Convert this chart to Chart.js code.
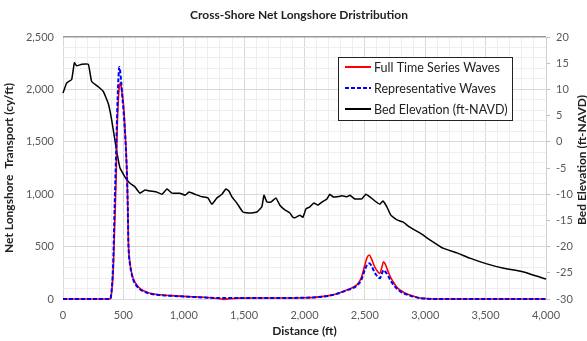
<!DOCTYPE html>
<html>
<head>
<meta charset="utf-8">
<script src="https://cdn.jsdelivr.net/npm/chart.js@4/dist/chart.umd.min.js"></script>
<style>
	html, body { margin: 0; padding: 0; background: #fff; }
	#wrap { width: 587px; height: 341px; position: relative; }
</style>
</head>
<body>
<div id="wrap"><canvas id="chart"></canvas></div>
<script>

// bed elevation profile (ft-NAVD) along the cross-shore distance
const bedDist = [0, 30, 72, 94, 113, 155, 210, 237, 292, 334, 375, 403, 430, 447, 472, 513, 530, 555, 596, 637, 679, 720, 778, 820, 861, 902, 968, 1010, 1043, 1093, 1151, 1200, 1233, 1275, 1316, 1349, 1374, 1399, 1440, 1490, 1548, 1606, 1647, 1664, 1689, 1722, 1763, 1796, 1838, 1879, 1904, 1921, 1946, 1962, 1987, 2012, 2045, 2078, 2111, 2144, 2186, 2210, 2235, 2268, 2310, 2351, 2376, 2417, 2475, 2508, 2541, 2583, 2624, 2649, 2682, 2715, 2765, 2815, 2872, 2955, 3038, 3146, 3262, 3369, 3510, 3642, 3808, 4000];
const bedElev = [9.3, 11.2, 11.9, 15.1, 14.5, 14.8, 14.8, 11.5, 10.5, 9.6, 7.3, 4.2, 0.3, -2.1, -5.0, -6.7, -7.3, -7.9, -8.6, -9.8, -9.2, -9.4, -9.6, -10.0, -9.0, -9.8, -9.8, -10.2, -9.6, -10.0, -10.5, -10.7, -11.9, -10.7, -10.0, -9.0, -9.4, -10.5, -11.7, -13.4, -13.6, -13.4, -12.4, -10.2, -11.5, -11.5, -10.7, -12.1, -13.0, -13.6, -14.4, -14.5, -14.2, -14.0, -14.4, -12.8, -12.4, -11.7, -12.1, -11.5, -10.9, -10.0, -10.5, -10.5, -10.3, -10.5, -10.2, -10.9, -10.9, -10.0, -10.5, -11.3, -11.9, -11.3, -12.4, -14.0, -14.9, -15.3, -16.3, -17.4, -18.7, -20.3, -21.2, -22.2, -23.3, -24.1, -24.8, -26.2];

// net longshore transport (cy/ft)
const waveDist = [0, 389, 400, 415, 428, 440, 448, 458, 466, 474, 482, 490, 499, 510, 519, 527, 532, 537, 541, 547, 555, 563, 580, 601, 625, 651, 690, 734, 800, 900, 1000, 1100, 1200, 1280, 1330, 1380, 1450, 1600, 1800, 2000, 2100, 2200, 2293, 2348, 2403, 2445, 2473, 2500, 2518, 2536, 2556, 2580, 2604, 2624, 2640, 2655, 2670, 2693, 2714, 2734, 2760, 2790, 2830, 2873, 2910, 2955, 3000, 3100, 4000];
const fullSeries = [0, 0, 40, 250, 700, 1150, 1600, 1900, 2020, 2060, 2030, 1960, 1880, 1700, 1500, 1280, 1100, 850, 560, 420, 340, 280, 200, 150, 115, 90, 68, 52, 40, 32, 25, 20, 14, 4, -4, 2, 8, 10, 10, 12, 18, 32, 60, 86, 112, 150, 213, 325, 395, 420, 380, 310, 265, 245, 300, 356, 330, 260, 205, 165, 120, 86, 58, 38, 24, 10, 5, 0, 0];
const repSeries = [0, 0, 50, 320, 900, 1400, 1750, 2080, 2213, 2170, 2070, 1950, 1830, 1650, 1480, 1270, 1100, 850, 560, 410, 330, 270, 190, 140, 105, 82, 62, 48, 38, 30, 24, 18, 13, 10, 10, 10, 10, 10, 10, 12, 17, 30, 58, 82, 105, 140, 190, 280, 325, 340, 315, 255, 215, 197, 240, 275, 260, 220, 175, 140, 105, 75, 50, 33, 20, 9, 4, 0, 0];

const seriesNames = ['Full Time Series Waves', 'Representative Waves', 'Bed Elevation (ft-NAVD)'];
const chartTitle = 'Cross-Shore Net Longshore Dristribution';

const FONT = 'Lato, "Open Sans", sans-serif';

function toPoints(xs, ys){
	return xs.map((x, i) => ({x: x, y: ys[i]}));
}

function fmt(v){
	return v.toLocaleString('en-US');
}

// grid colour: major lines every 500, faint minor lines every 100
function gridColor(ctx){
	var v = ctx.tick ? ctx.tick.value : 0;
	if (v === 2500 && ctx.scale.id === 'y') return '#9a9a9a';
	return (v % 500 === 0) ? '#d9d9d9' : '#eeeeee';
}

// title, right axis title and the boxed legend are drawn by hand
const extras = {
	id: 'extras',
	afterDraw(chart){
		var c = chart.ctx;
		c.save();
		c.fillStyle = '#222';
		c.textAlign = 'center';
		c.textBaseline = 'middle';
		c.font = 'bold 12px ' + FONT;
		c.fillText(chartTitle, 299, 15);

		c.translate(582, 160);
		c.rotate(-Math.PI / 2);
		c.fillText(seriesNames[2], 0, 0);
		c.restore();

		// legend box
		c.save();
		c.fillStyle = '#fff';
		c.fillRect(338, 57, 174, 63);
		c.strokeStyle = '#222';
		c.lineWidth = 1;
		c.strokeRect(338.5, 57.5, 174, 63);

		var rows = [
			{y: 67, color: '#ff0000', dash: []},
			{y: 88, color: '#0000ff', dash: [4, 2]},
			{y: 109, color: '#000000', dash: []}
		];
		c.font = '12.5px ' + FONT;
		c.textAlign = 'left';
		c.textBaseline = 'middle';
		rows.forEach((r, i) => {
			c.beginPath();
			c.setLineDash(r.dash);
			c.strokeStyle = r.color;
			c.lineWidth = 2;
			c.moveTo(345, r.y);
			c.lineTo(371, r.y);
			c.stroke();
			c.setLineDash([]);
			c.fillStyle = '#222';
			c.fillText(seriesNames[i], 374, r.y + 1);
		});
		c.restore();
	}
};

new Chart(document.getElementById('chart'), {
	type: 'line',
	data: {
		datasets: [
			{
				label: seriesNames[1],
				data: toPoints(waveDist, repSeries),
				borderColor: '#0000ff',
				borderWidth: 2,
				borderDash: [4, 2],
				yAxisID: 'y',
				order: 0
			},
			{
				label: seriesNames[0],
				data: toPoints(waveDist, fullSeries),
				borderColor: '#ff0000',
				borderWidth: 1.6,
				yAxisID: 'y',
				order: 1
			},
			{
				label: seriesNames[2],
				data: toPoints(bedDist, bedElev),
				borderColor: '#000000',
				borderWidth: 1.5,
				tension: 0.1,
				cubicInterpolationMode: 'default',
				yAxisID: 'y2',
				order: 2
			}
		]
	},
	options: {
		responsive: true,
		maintainAspectRatio: false,
		animation: false,
		clip: false,
		elements: {
			point: { radius: 0 },
			line: { tension: 0.3, fill: false, cubicInterpolationMode: 'monotone' }
		},
		layout: { padding: { top: 37, left: 0, right: 0, bottom: 0 } },
		plugins: {
			legend: { display: false },
			title: { display: false },
			tooltip: { enabled: false }
		},
		scales: {
			x: {
				type: 'linear',
				min: 0,
				max: 4000,
				afterFit: (s) => { s.height = 42; },
				border: { display: false },
				grid: { color: gridColor, drawTicks: false },
				ticks: {
					stepSize: 100,
					autoSkip: false,
					maxRotation: 0,
					padding: 10,
					color: '#595959',
					font: { family: FONT, size: 11 },
					callback: (v) => (v % 500 === 0 ? fmt(v) : '')
				},
				title: {
					display: true,
					text: 'Distance (ft)',
					color: '#222',
					font: { family: FONT, size: 12, weight: 'bold' },
					padding: { top: 0, bottom: 3 }
				}
			},
			y: {
				position: 'left',
				min: 0,
				max: 2500,
				afterFit: (s) => { s.width = 63; },
				border: { display: false },
				grid: {
					color: gridColor,
					lineWidth: (ctx) => (ctx.tick && ctx.tick.value === 2500 ? 1.5 : 1),
					drawTicks: false
				},
				ticks: {
					stepSize: 100,
					autoSkip: false,
					padding: 9,
					color: '#595959',
					font: { family: FONT, size: 11 },
					callback: (v) => (v % 500 === 0 ? fmt(v) : '')
				},
				title: {
					display: true,
					text: 'Net Longshore  Transport (cy/ft)',
					color: '#222',
					font: { family: FONT, size: 12, weight: 'bold' },
					padding: { top: 2, bottom: 0 }
				}
			},
			y2: {
				position: 'right',
				min: -30,
				max: 20,
				afterFit: (s) => { s.width = 41; },
				border: { display: true, color: '#cfcfcf' },
				grid: { drawOnChartArea: false, tickLength: 4, color: '#bfbfbf' },
				ticks: {
					stepSize: 5,
					padding: 6,
					color: '#595959',
					font: { family: FONT, size: 11 }
				}
			}
		}
	},
	plugins: [extras]
});
</script>
</body>
</html>
